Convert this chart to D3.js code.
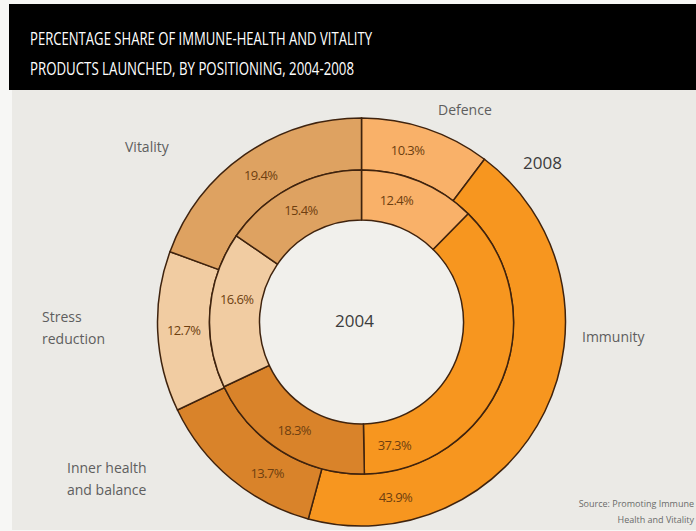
<!DOCTYPE html>
<html><head><meta charset="utf-8">
<script src="https://cdn.jsdelivr.net/npm/d3@7/dist/d3.min.js"></script>
<style>
html,body{margin:0;padding:0;background:#f7f7f5;}
svg{display:block;}
</style></head>
<body>
<svg id="chart" width="696" height="531"></svg>
<script>
// ---- data ----
const categories = ["Defence", "Immunity", "Inner health and balance", "Stress reduction", "Vitality"];
const values2004 = [12.4, 37.3, 18.3, 16.6, 15.4];
const values2008 = [10.3, 43.9, 13.7, 12.7, 19.4];
const titleLines = ["PERCENTAGE SHARE OF IMMUNE-HEALTH AND VITALITY", "PRODUCTS LAUNCHED, BY POSITIONING, 2004-2008"];
const sourceLines = ["Source: Promoting Immune", "Health and Vitality"];

// ---- styles / layout ----
const colors = ["#f9b169", "#f7961f", "#d9832a", "#f1cca2", "#dea261"];
const cx = 361.5, cy = 322;
const rHole = 102, rMid = 152, rOuter = 204;
// label angles (degrees, clockwise from 12 o'clock) for percentage labels
const innerLabelAngle = [16, 165, 212, 280.5, 331.5];
const outerLabelAngle = [15, 169, 212, 267.5, 325.5];
const catLabelLayout = [
  {lines:["Defence"], x:438, y:115, anchor:"start"},
  {lines:["Immunity"], x:582, y:342, anchor:"start"},
  {lines:["Inner health","and balance"], x:67, y:473, anchor:"start"},
  {lines:["Stress","reduction"], x:42, y:322, anchor:"start"},
  {lines:["Vitality"], x:125, y:152, anchor:"start"}
];

const svg = d3.select("#chart");
const font = "'Open Sans', 'Noto Sans', sans-serif";

// panel + title band
svg.append("rect").attr("x", 12).attr("y", 90).attr("width", 684).attr("height", 440).attr("fill", "#ebeae6");
svg.append("rect").attr("x", 9).attr("y", 4).attr("width", 687).attr("height", 86).attr("fill", "#000");
const titleWidths = [342, 324];
titleLines.forEach((t, i) => {
  svg.append("text").attr("x", 30).attr("y", 45 + i * 30)
    .attr("fill", "#fff").attr("font-family", font).attr("font-size", 17.5)
    .attr("textLength", titleWidths[i]).attr("lengthAdjust", "spacingAndGlyphs")
    .text(t);
});

const pie = d3.pie().sort(null).value(d => d);
const arcInner = d3.arc().innerRadius(rHole).outerRadius(rMid);
const arcOuter = d3.arc().innerRadius(rMid).outerRadius(rOuter);

const g = svg.append("g").attr("transform", `translate(${cx},${cy})`);

// center hole
g.append("circle").attr("r", rHole).attr("fill", "#f1f0ec");

const stroke = "#3f230e";
g.selectAll("path.outer").data(pie(values2008)).join("path")
  .attr("class", "outer").attr("d", arcOuter)
  .attr("fill", (d, i) => colors[i]).attr("stroke", stroke).attr("stroke-width", 1.5);
g.selectAll("path.inner").data(pie(values2004)).join("path")
  .attr("class", "inner").attr("d", arcInner)
  .attr("fill", (d, i) => colors[i]).attr("stroke", stroke).attr("stroke-width", 1.5);

function polar(angleDeg, r) {
  const a = angleDeg * Math.PI / 180;
  return [r * Math.sin(a), -r * Math.cos(a)];
}
const pctFmt = v => v.toFixed(1) + "%";
const labelColor = "#6e3f10";
values2004.forEach((v, i) => {
  const [x, y] = polar(innerLabelAngle[i], (rHole + rMid) / 2);
  g.append("text").attr("x", x).attr("y", y + 5).attr("text-anchor", "middle")
    .attr("font-family", font).attr("font-size", 13).attr("fill", labelColor)
    .attr("letter-spacing", -0.6).text(pctFmt(v));
});
values2008.forEach((v, i) => {
  const [x, y] = polar(outerLabelAngle[i], (rMid + rOuter) / 2);
  g.append("text").attr("x", x).attr("y", y + 5).attr("text-anchor", "middle")
    .attr("font-family", font).attr("font-size", 13).attr("fill", labelColor)
    .attr("letter-spacing", -0.6).text(pctFmt(v));
});

// year labels
svg.append("text").attr("x", cx - 7).attr("y", 327).attr("text-anchor", "middle")
  .attr("font-family", font).attr("font-size", 17).attr("fill", "#3c3c3c").text("2004");
svg.append("text").attr("x", 523).attr("y", 169)
  .attr("font-family", font).attr("font-size", 17).attr("fill", "#3c3c3c").text("2008");

// category labels
catLabelLayout.forEach((L, i) => {
  L.lines.forEach((ln, j) => {
    svg.append("text").attr("x", L.x).attr("y", L.y + j * 22).attr("text-anchor", L.anchor)
      .attr("font-family", font).attr("font-size", 14).attr("fill", "#5e5e5e").text(ln);
  });
});

// source
sourceLines.forEach((s, i) => {
  svg.append("text").attr("x", 694).attr("y", 507 + i * 16).attr("text-anchor", "end")
    .attr("font-family", font).attr("font-size", 9).attr("fill", "#6a6a6a").text(s);
});
</script>
</body></html>
